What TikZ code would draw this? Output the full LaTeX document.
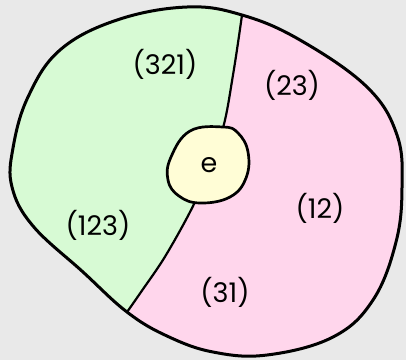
\documentclass[tikz,border=0pt]{standalone}
\usepackage{fontspec}
\setmainfont{Poppins}
\usepackage{xcolor}
\usetikzlibrary{positioning}

\definecolor{bggray}{HTML}{E9E9E9}
\definecolor{leftgreen}{HTML}{D7FAD4}
\definecolor{rightpink}{HTML}{FFD6EC}
\definecolor{idyellow}{HTML}{FFFDD6}

\begin{document}
\begin{tikzpicture}[
  x=1pt, y=-1pt,
  outline/.style={draw=black, line width=3pt, line join=round},
  divider/.style={draw=black, line width=2.2pt, line cap=round},
  idblob/.style={fill=idyellow, draw=black, line width=2.7pt, line join=round},
  perm/.style={font=\fontsize{27}{30}\selectfont, text=black, inner sep=0pt}
]

  % Background
  \fill[bggray] (0,0) rectangle (406,360);
  \useasboundingbox (0,0) rectangle (406,360);

  \def\outerblob{plot[smooth cycle, tension=0.65] coordinates {
    (242,15) (300,40) (367,87) (397,135) (402,187) (396,242) (373,300)
    (333,337) (267,355) (213,352) (167,336) (127,312) (83,272) (33,226)
    (12,187) (13,148) (28,97) (60,50) (117,20) (187,7)}}

  % Right region
  \fill[rightpink] \outerblob;

  % Left region
  \begin{scope}
    \clip \outerblob;
    \fill[leftgreen] plot[smooth, tension=0.6] coordinates {
      (245,-10) (242,15) (233,75) (223,128) (207,170) (194,204)
      (166,255) (141,292) (120,322) (100,350)}
      -- (-10,370) -- (-10,-10) -- cycle;
    \draw[divider] plot[smooth, tension=0.6] coordinates {
      (245,-10) (242,15) (233,75) (223,128) (207,170) (194,204)
      (166,255) (141,292) (120,322) (100,350)};
  \end{scope}

  % Outer outline
  \draw[outline] \outerblob;

  % Identity
  \draw[idblob] plot[smooth cycle, tension=0.7] coordinates {
    (223,127) (238,133) (248,152) (246,178) (230,197) (200,203)
    (179,196) (168,180) (171,157) (190,131)};

  % Labels
  \node[perm] (e) at (209,165) {e};
  \node[perm] (p321) at (165,64) {(321)};
  \node[perm] (p23) at (292,85) {(23)};
  \node[perm] (p12) at (320,208) {(12)};
  \node[perm] (p123) at (98,225) {(123)};
  \node[perm] (p31) at (225,292) {(31)};

\end{tikzpicture}
\end{document}
